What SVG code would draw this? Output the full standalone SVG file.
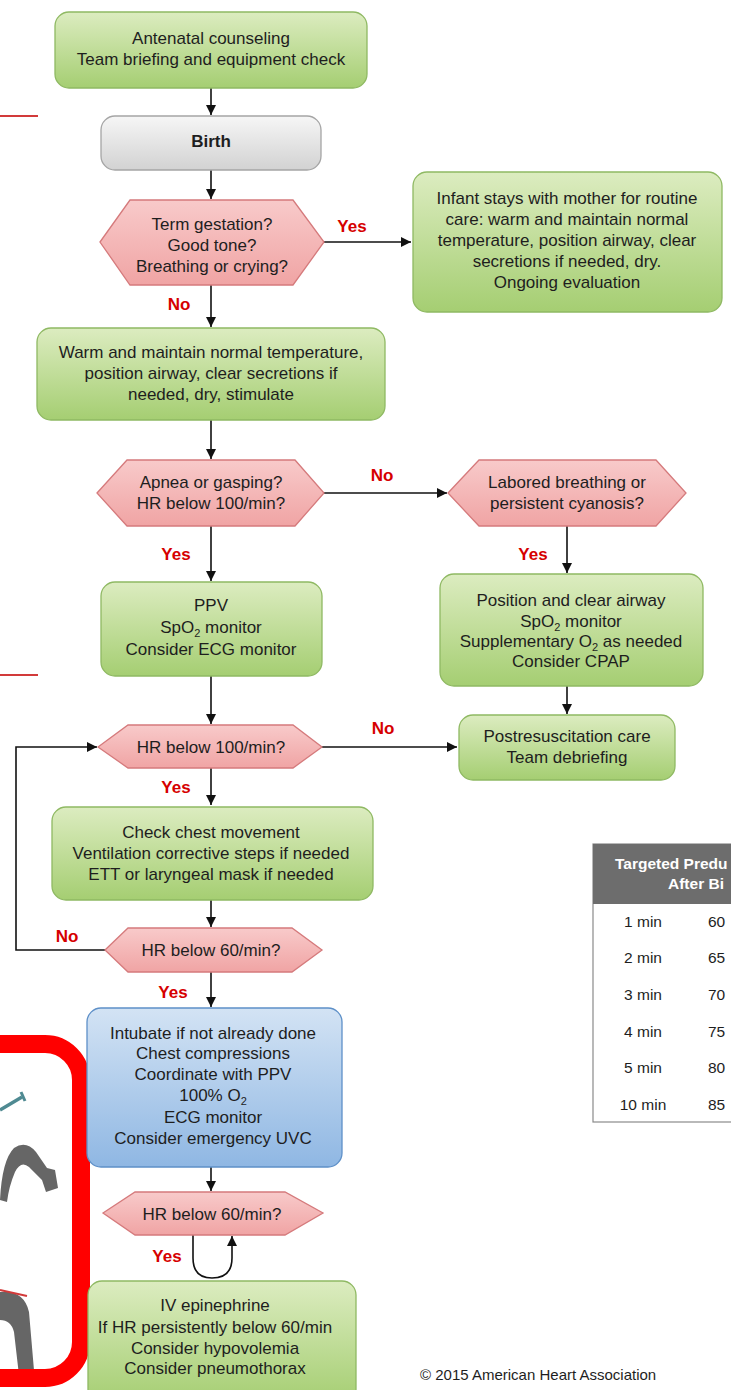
<svg xmlns="http://www.w3.org/2000/svg" width="731" height="1390" viewBox="0 0 731 1390">
  <defs>
    <linearGradient id="gGreen" x1="0" y1="0" x2="0" y2="1">
      <stop offset="0" stop-color="#dcecc0"/>
      <stop offset="1" stop-color="#a5ce72"/>
    </linearGradient>
    <linearGradient id="gPink" x1="0" y1="0" x2="0" y2="1">
      <stop offset="0" stop-color="#f8caca"/>
      <stop offset="1" stop-color="#f0a4a4"/>
    </linearGradient>
    <linearGradient id="gGray" x1="0" y1="0" x2="0" y2="1">
      <stop offset="0" stop-color="#f6f6f6"/>
      <stop offset="1" stop-color="#d2d2d2"/>
    </linearGradient>
    <linearGradient id="gBlue" x1="0" y1="0" x2="0" y2="1">
      <stop offset="0" stop-color="#d3e3f4"/>
      <stop offset="1" stop-color="#8fb7e3"/>
    </linearGradient>
    <marker id="arrow" viewBox="0 0 10 10" refX="10" refY="5" markerWidth="11" markerHeight="10" markerUnits="userSpaceOnUse" orient="auto">
      <path d="M0,0 L10,5 L0,10 Z" fill="#111"/>
    </marker>
    <style>
      .box { fill: url(#gGreen); stroke: #8fb963; stroke-width: 1.3; }
      .hex { fill: url(#gPink); stroke: #d57a7c; stroke-width: 1.3; }
      .gray { fill: url(#gGray); stroke: #a5a5a5; stroke-width: 1.3; }
      .blue { fill: url(#gBlue); stroke: #5e90c8; stroke-width: 1.3; }
      .t { font-family: "Liberation Sans", Arial, sans-serif; font-size: 17px; fill: #1e1e1e; text-anchor: middle; }
      .b { font-weight: bold; }
      .lab { font-family: "Liberation Sans", Arial, sans-serif; font-size: 17px; font-weight: bold; fill: #d60000; text-anchor: middle; }
      .sub { font-size: 11px; }
      .line { fill: none; stroke: #111; stroke-width: 1.6; }
      .tab { font-family: "Liberation Sans", Arial, sans-serif; font-size: 15.5px; fill: #1e1e1e; text-anchor: middle; }
      .val { font-family: "Liberation Sans", Arial, sans-serif; font-size: 15.5px; fill: #1e1e1e; }
      .th { font-family: "Liberation Sans", Arial, sans-serif; font-size: 15.5px; font-weight: bold; fill: #ffffff; }
    </style>
  </defs>

  <rect x="0" y="0" width="731" height="1390" fill="#ffffff"/>

  <!-- side marks -->
  <line x1="0" y1="116" x2="38" y2="116" stroke="#d23a3a" stroke-width="2"/>
  <line x1="0" y1="675" x2="38" y2="675" stroke="#d23a3a" stroke-width="2"/>

  <!-- illustration fragment at lower left -->
  <g id="illustration">
    <line x1="0" y1="1110" x2="22" y2="1097" stroke="#4f8a92" stroke-width="3.5"/>
    <line x1="21" y1="1092" x2="25" y2="1101" stroke="#4f8a92" stroke-width="3"/>
    <path d="M0,1200 Q2,1160 14,1148 Q26,1140 36,1152 L47,1168 L55,1170 L58,1188 L46,1192 L42,1180 L29,1167 Q21,1160 15,1172 Q9,1186 7,1202 Z" fill="#666"/>
    <path d="M0,1292 Q24,1290 29,1312 L35,1382 L20,1384 L14,1332 Q11,1320 0,1320 Z" fill="#666"/>
    <line x1="0" y1="1290" x2="27" y2="1296" stroke="#d23a3a" stroke-width="2"/>
    <rect x="-40" y="1044" width="121" height="334" rx="36" fill="none" stroke="#ff0000" stroke-width="18"/>
  </g>

  <!-- connectors -->
  <g id="connectors">
    <line class="line" x1="211" y1="88" x2="211" y2="115" marker-end="url(#arrow)"/>
    <line class="line" x1="211" y1="170" x2="211" y2="199" marker-end="url(#arrow)"/>
    <line class="line" x1="324" y1="242" x2="411" y2="242" marker-end="url(#arrow)"/>
    <line class="line" x1="211" y1="285" x2="211" y2="327" marker-end="url(#arrow)"/>
    <line class="line" x1="211" y1="420" x2="211" y2="459" marker-end="url(#arrow)"/>
    <line class="line" x1="324" y1="493" x2="447" y2="493" marker-end="url(#arrow)"/>
    <line class="line" x1="211" y1="526" x2="211" y2="581" marker-end="url(#arrow)"/>
    <line class="line" x1="567" y1="526" x2="567" y2="573" marker-end="url(#arrow)"/>
    <line class="line" x1="211" y1="676" x2="211" y2="724" marker-end="url(#arrow)"/>
    <line class="line" x1="567" y1="686" x2="567" y2="714" marker-end="url(#arrow)"/>
    <line class="line" x1="322" y1="747" x2="457" y2="747" marker-end="url(#arrow)"/>
    <line class="line" x1="211" y1="768" x2="211" y2="805" marker-end="url(#arrow)"/>
    <line class="line" x1="211" y1="900" x2="211" y2="927" marker-end="url(#arrow)"/>
    <path class="line" d="M105,950 H16 V747 H97" marker-end="url(#arrow)"/>
    <line class="line" x1="211" y1="972" x2="211" y2="1007" marker-end="url(#arrow)"/>
    <line class="line" x1="211" y1="1167" x2="211" y2="1191" marker-end="url(#arrow)"/>
    <path class="line" d="M193,1235 V1258 Q193,1278 212,1278 Q232,1278 232,1258 V1236" marker-end="url(#arrow)"/>
  </g>

  <!-- labels on connectors -->
  <g id="labels">
    <text class="lab" x="352" y="232">Yes</text>
    <text class="lab" x="179" y="310">No</text>
    <text class="lab" x="382" y="481">No</text>
    <text class="lab" x="176" y="560">Yes</text>
    <text class="lab" x="533" y="560">Yes</text>
    <text class="lab" x="383" y="734">No</text>
    <text class="lab" x="176" y="793">Yes</text>
    <text class="lab" x="67" y="942">No</text>
    <text class="lab" x="173" y="998">Yes</text>
    <text class="lab" x="167" y="1262">Yes</text>
  </g>

  <g id="antenatal">
    <rect class="box" x="55" y="12" width="312" height="76" rx="14"/>
    <text class="t" x="211" y="44">Antenatal counseling</text>
    <text class="t" x="211" y="65">Team briefing and equipment check</text>
  </g>

  <g id="birth">
    <rect class="gray" x="101" y="116" width="220" height="54" rx="14"/>
    <text class="t b" x="211" y="147">Birth</text>
  </g>

  <g id="term-check">
    <polygon class="hex" points="100,242 130,200 293,200 324,242 293,285 130,285"/>
    <text class="t" x="212" y="230">Term gestation?</text>
    <text class="t" x="212" y="251">Good tone?</text>
    <text class="t" x="212" y="272">Breathing or crying?</text>
  </g>

  <g id="routine-care">
    <rect class="box" x="413" y="172" width="309" height="140" rx="14"/>
    <text class="t" x="567" y="204">Infant stays with mother for routine</text>
    <text class="t" x="567" y="225">care: warm and maintain normal</text>
    <text class="t" x="567" y="246">temperature, position airway, clear</text>
    <text class="t" x="567" y="267">secretions if needed, dry.</text>
    <text class="t" x="567" y="288">Ongoing evaluation</text>
  </g>

  <g id="warm">
    <rect class="box" x="37" y="328" width="348" height="92" rx="14"/>
    <text class="t" x="211" y="358">Warm and maintain normal temperature,</text>
    <text class="t" x="211" y="379">position airway, clear secretions if</text>
    <text class="t" x="211" y="400">needed, dry, stimulate</text>
  </g>

  <g id="apnea-check">
    <polygon class="hex" points="97,493 127,460 295,460 324,493 295,526 127,526"/>
    <text class="t" x="211" y="488">Apnea or gasping?</text>
    <text class="t" x="211" y="509">HR below 100/min?</text>
  </g>

  <g id="labored-check">
    <polygon class="hex" points="448,493 479,460 656,460 686,493 656,526 479,526"/>
    <text class="t" x="567" y="488">Labored breathing or</text>
    <text class="t" x="567" y="509">persistent cyanosis?</text>
  </g>

  <g id="ppv">
    <rect class="box" x="101" y="582" width="221" height="94" rx="14"/>
    <text class="t" x="211" y="611">PPV</text>
    <text class="t" x="211" y="633">SpO<tspan class="sub" dy="4">2</tspan><tspan dy="-4"> monitor</tspan></text>
    <text class="t" x="211" y="655">Consider ECG monitor</text>
  </g>

  <g id="airway">
    <rect class="box" x="440" y="574" width="263" height="112" rx="14"/>
    <text class="t" x="571" y="606">Position and clear airway</text>
    <text class="t" x="571" y="627">SpO<tspan class="sub" dy="4">2</tspan><tspan dy="-4"> monitor</tspan></text>
    <text class="t" x="571" y="647">Supplementary O<tspan class="sub" dy="4">2</tspan><tspan dy="-4"> as needed</tspan></text>
    <text class="t" x="571" y="667">Consider CPAP</text>
  </g>

  <g id="postresuscitation">
    <rect class="box" x="459" y="715" width="216" height="65" rx="14"/>
    <text class="t" x="567" y="742">Postresuscitation care</text>
    <text class="t" x="567" y="763">Team debriefing</text>
  </g>

  <g id="hr100-check">
    <polygon class="hex" points="98,747 128,725 293,725 322,747 293,768 128,768"/>
    <text class="t" x="211" y="753">HR below 100/min?</text>
  </g>

  <g id="ventilation">
    <rect class="box" x="52" y="807" width="321" height="93" rx="14"/>
    <text class="t" x="211" y="838">Check chest movement</text>
    <text class="t" x="211" y="859">Ventilation corrective steps if needed</text>
    <text class="t" x="211" y="880">ETT or laryngeal mask if needed</text>
  </g>

  <g id="hr60-check">
    <polygon class="hex" points="105,950 128,928 292,928 322,950 292,972 128,972"/>
    <text class="t" x="211" y="956">HR below 60/min?</text>
  </g>

  <g id="compressions">
    <rect class="blue" x="87" y="1008" width="255" height="159" rx="14"/>
    <text class="t" x="213" y="1039">Intubate if not already done</text>
    <text class="t" x="213" y="1059">Chest compressions</text>
    <text class="t" x="213" y="1080">Coordinate with PPV</text>
    <text class="t" x="213" y="1101">100% O<tspan class="sub" dy="4">2</tspan></text>
    <text class="t" x="213" y="1123">ECG monitor</text>
    <text class="t" x="213" y="1144">Consider emergency UVC</text>
  </g>

  <g id="hr60-recheck">
    <polygon class="hex" points="103,1213 135,1192 285,1192 323,1213 285,1235 135,1235"/>
    <text class="t" x="212" y="1220">HR below 60/min?</text>
  </g>

  <g id="epinephrine">
    <rect class="box" x="88" y="1281" width="268" height="122" rx="14"/>
    <text class="t" x="215" y="1311">IV epinephrine</text>
    <text class="t" x="215" y="1333">If HR persistently below 60/min</text>
    <text class="t" x="215" y="1354">Consider hypovolemia</text>
    <text class="t" x="215" y="1374">Consider pneumothorax</text>
  </g>

  <!-- SpO2 target table, running past the right edge -->
  <g id="spo2-table">
    <rect x="593" y="844" width="200" height="278" fill="#ffffff" stroke="#8a8a8a" stroke-width="1.2"/>
    <rect x="593" y="844" width="200" height="60" fill="#6d6d6d"/>
    <text class="th" x="615" y="869">Targeted Predu</text>
    <text class="th" x="668" y="889">After Bi</text>
    <text class="tab" x="643" y="927">1 min</text>
    <text class="tab" x="643" y="963">2 min</text>
    <text class="tab" x="643" y="1000">3 min</text>
    <text class="tab" x="643" y="1037">4 min</text>
    <text class="tab" x="643" y="1073">5 min</text>
    <text class="tab" x="643" y="1110">10 min</text>
    <text class="val" x="708" y="927">60</text>
    <text class="val" x="708" y="963">65</text>
    <text class="val" x="708" y="1000">70</text>
    <text class="val" x="708" y="1037">75</text>
    <text class="val" x="708" y="1073">80</text>
    <text class="val" x="708" y="1110">85</text>
  </g>

  <text x="420" y="1380" font-family="'Liberation Sans', Arial, sans-serif" font-size="15" fill="#1e1e1e">© 2015 American Heart Association</text>
</svg>
